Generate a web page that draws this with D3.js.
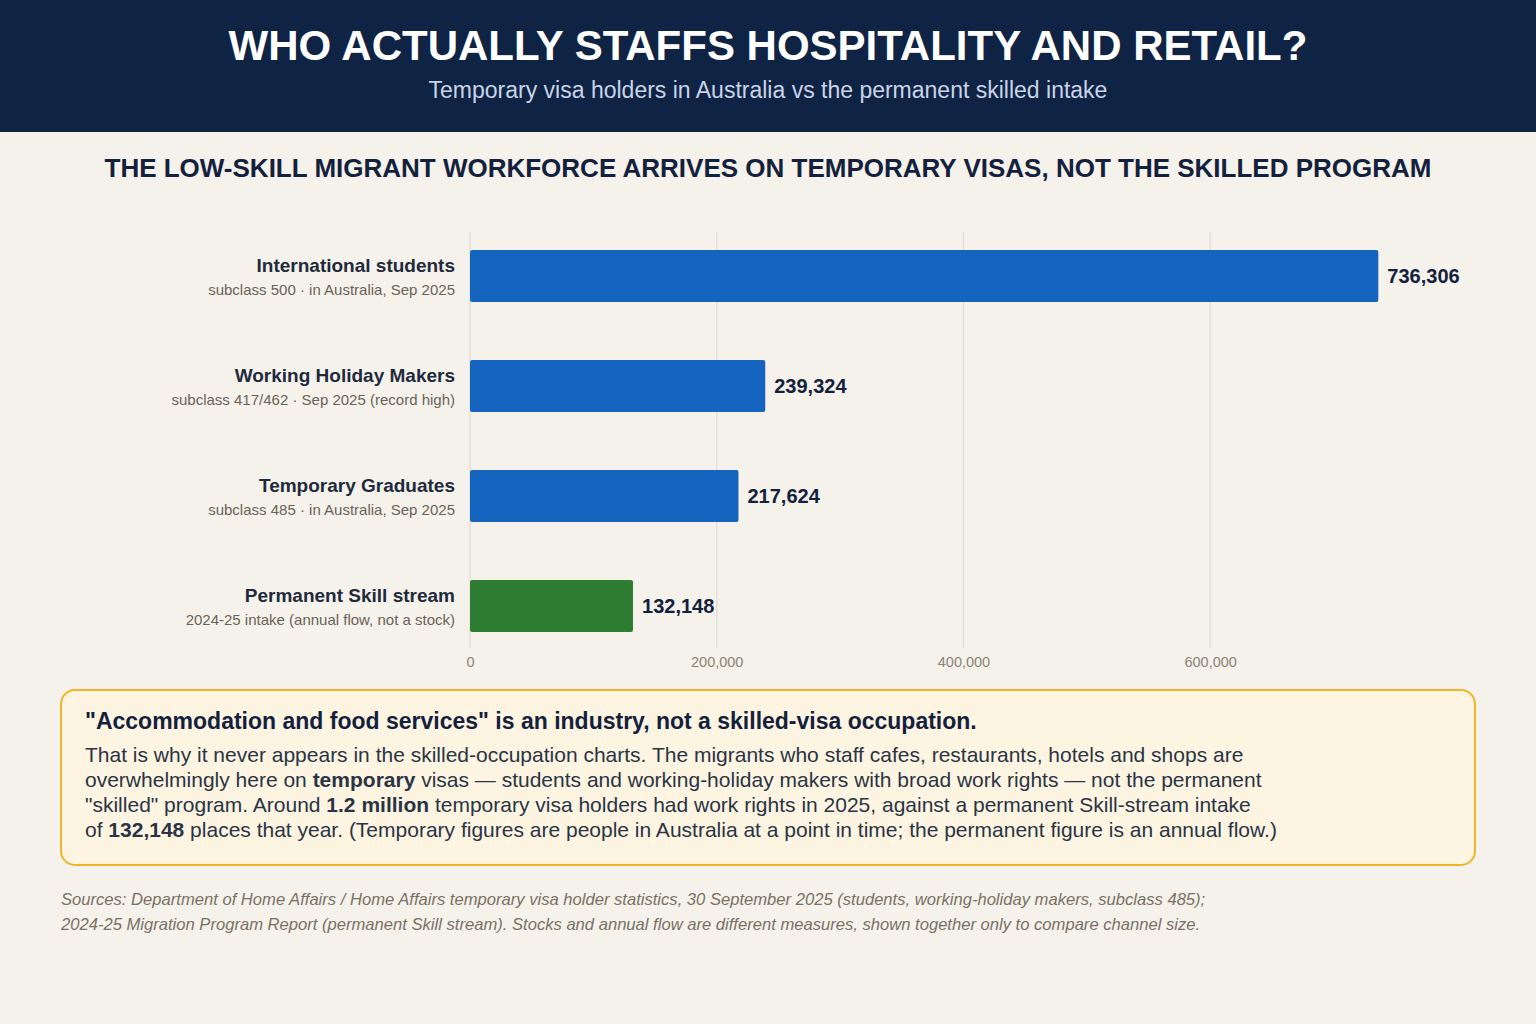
<!DOCTYPE html>
<html><head><meta charset="utf-8">
<script src="https://cdn.jsdelivr.net/npm/d3@7"></script>
<style>
html,body{margin:0;padding:0;background:#f5f2eb;}
svg{display:block;font-family:"Liberation Sans",Arial,Helvetica,sans-serif;}
</style></head>
<body>
<svg id="c" width="1536" height="1024"></svg>
<script>
const categories = ["International students","Working Holiday Makers","Temporary Graduates","Permanent Skill stream"];
const subLabels = ["subclass 500 · in Australia, Sep 2025","subclass 417/462 · Sep 2025 (record high)","subclass 485 · in Australia, Sep 2025","2024-25 intake (annual flow, not a stock)"];
const values = [736306, 239324, 217624, 132148];
const seriesKind = ["temporary","temporary","temporary","permanent"];
const tickValues = [0, 200000, 400000, 600000];

const title = "WHO ACTUALLY STAFFS HOSPITALITY AND RETAIL?";
const subtitle = "Temporary visa holders in Australia vs the permanent skilled intake";
const chartHeading = "THE LOW-SKILL MIGRANT WORKFORCE ARRIVES ON TEMPORARY VISAS, NOT THE SKILLED PROGRAM";
const calloutHeading = "\"Accommodation and food services\" is an industry, not a skilled-visa occupation.";
const calloutLines = [
  [["That is why it never appears in the skilled-occupation charts. The migrants who staff cafes, restaurants, hotels and shops are",0]],
  [["overwhelmingly here on ",0],["temporary",1],[" visas — students and working-holiday makers with broad work rights — not the permanent",0]],
  [["\"skilled\" program. Around ",0],["1.2 million",1],[" temporary visa holders had work rights in 2025, against a permanent Skill-stream intake",0]],
  [["of ",0],["132,148",1],[" places that year. (Temporary figures are people in Australia at a point in time; the permanent figure is an annual flow.)",0]]
];
const sourceLines = [
  "Sources: Department of Home Affairs / Home Affairs temporary visa holder statistics, 30 September 2025 (students, working-holiday makers, subclass 485);",
  "2024-25 Migration Program Report (permanent Skill stream). Stocks and annual flow are different measures, shown together only to compare channel size."
];

const svg = d3.select("#c");
const W = 1536;

// header
svg.append("rect").attr("x",0).attr("y",0).attr("width",W).attr("height",132).attr("fill","#0f2344");
svg.append("text").attr("x",W/2).attr("y",60).attr("text-anchor","middle")
  .attr("fill","#ffffff").attr("font-size",42).attr("font-weight","bold").text(title);
svg.append("text").attr("x",W/2).attr("y",98).attr("text-anchor","middle")
  .attr("fill","#c9d4e8").attr("font-size",23).text(subtitle);

svg.append("text").attr("x",W/2).attr("y",177).attr("text-anchor","middle")
  .attr("fill","#14213d").attr("font-size",26).attr("font-weight","bold").text(chartHeading);

// scales
const x = d3.scaleLinear().domain([0, d3.max(values)*1.08]).range([470, 1451]);
const y = d3.scaleBand().domain(categories).range([221, 661]).paddingInner(0.527).paddingOuter(0.2636);

// grid
svg.append("g").selectAll("line").data(tickValues).join("line")
  .attr("x1",d=>x(d)).attr("x2",d=>x(d)).attr("y1",232).attr("y2",648)
  .attr("stroke","#e4e0d7").attr("stroke-width",1.5);

// axis
const axis = svg.append("g").attr("transform","translate(0,649)")
  .call(d3.axisBottom(x).tickValues(tickValues).tickFormat(d3.format(",")).tickSize(0).tickPadding(8));
axis.select(".domain").remove();
axis.selectAll("text").attr("fill","#8c8475").attr("font-size",14.5).attr("font-family","Liberation Sans, Arial, sans-serif");

// bars
const colors = {temporary:"#1565c0", permanent:"#2e7d32"};
const data = categories.map((c,i)=>({c, sub:subLabels[i], v:values[i], k:seriesKind[i]}));
svg.selectAll("rect.bar").data(data).join("rect").attr("class","bar")
  .attr("x",x(0)).attr("y",d=>y(d.c)).attr("width",d=>x(d.v)-x(0)).attr("height",y.bandwidth())
  .attr("rx",2).attr("fill",d=>colors[d.k]);

svg.selectAll("text.val").data(data).join("text").attr("class","val")
  .attr("x",d=>x(d.v)+9).attr("y",d=>y(d.c)+y.bandwidth()/2+7)
  .attr("fill","#14213d").attr("font-size",20).attr("font-weight","bold")
  .text(d=>d3.format(",")(d.v));

svg.selectAll("text.cat").data(data).join("text").attr("class","cat")
  .attr("x",455).attr("y",d=>y(d.c)+y.bandwidth()/2-4).attr("text-anchor","end")
  .attr("fill","#1f2a3d").attr("font-size",19).attr("font-weight","bold").text(d=>d.c);
svg.selectAll("text.sub").data(data).join("text").attr("class","sub")
  .attr("x",455).attr("y",d=>y(d.c)+y.bandwidth()/2+19).attr("text-anchor","end")
  .attr("fill","#6b6257").attr("font-size",15).text(d=>d.sub);

// callout
svg.append("rect").attr("x",61).attr("y",690).attr("width",1414).attr("height",175).attr("rx",14)
  .attr("fill","#fdf5e2").attr("stroke","#f0b429").attr("stroke-width",2);
svg.append("text").attr("x",85).attr("y",729).attr("fill","#14213d").attr("font-size",23)
  .attr("font-weight","bold").text(calloutHeading);
calloutLines.forEach((line,i)=>{
  const t = svg.append("text").attr("x",85).attr("y",762+i*25).attr("fill","#2a3444").attr("font-size",21);
  line.forEach(([s,b])=>t.append("tspan").attr("font-weight",b?"bold":"normal").text(s));
});

sourceLines.forEach((s,i)=>{
  svg.append("text").attr("x",61).attr("y",905+i*24.5).attr("fill","#7a7064").attr("font-size",16.6)
    .attr("font-style","italic").text(s);
});
</script>
</body></html>
